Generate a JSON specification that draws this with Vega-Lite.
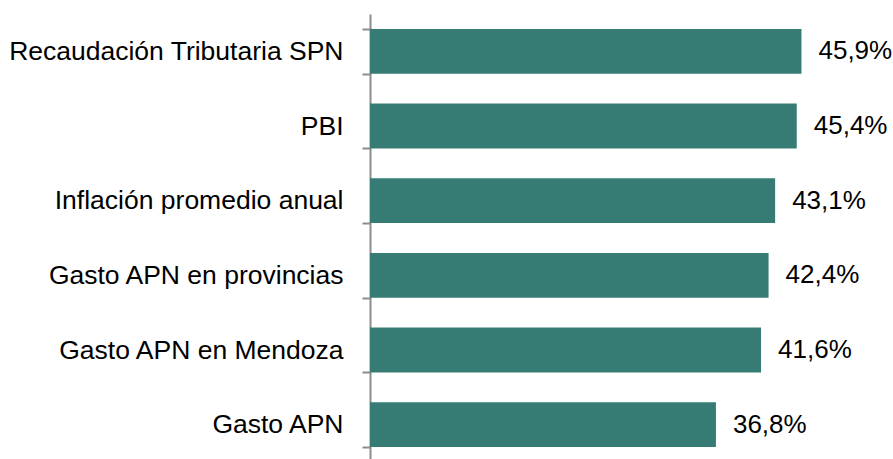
{
  "$schema": "https://vega.github.io/schema/vega-lite/v6.json",
  "autosize": "none",
  "width": 470,
  "height": 448,
  "padding": {"left": 370, "top": 14, "right": 53, "bottom": 0},
  "background": "white",
  "config": {
    "view": {"stroke": null},
    "font": "Liberation Sans",
    "locale": {"number": {"decimal": ",", "thousands": ".", "grouping": [3], "currency": ["$", ""]}}
  },
  "data": {
    "values": [
      {"categoria": "Recaudación Tributaria SPN", "valor": 0.459},
      {"categoria": "PBI", "valor": 0.454},
      {"categoria": "Inflación promedio anual", "valor": 0.431},
      {"categoria": "Gasto APN en provincias", "valor": 0.424},
      {"categoria": "Gasto APN en Mendoza", "valor": 0.416},
      {"categoria": "Gasto APN", "valor": 0.368}
    ]
  },
  "encoding": {
    "y": {
      "field": "categoria",
      "type": "nominal",
      "sort": null,
      "scale": {"paddingInner": 0.4, "paddingOuter": 0.2},
      "axis": {
        "title": null,
        "labelFontSize": 26.5,
        "labelColor": "#000000",
        "labelFont": "Liberation Sans",
        "labelPadding": 19,
        "labelLimit": 400,
        "domainColor": "#8C8C8C",
        "domainWidth": 2,
        "tickColor": "#8C8C8C",
        "tickWidth": 2,
        "tickSize": 8,
        "tickBand": "extent",
        "grid": false
      }
    },
    "x": {
      "field": "valor",
      "type": "quantitative",
      "scale": {"domain": [0, 0.5], "nice": false},
      "axis": null
    }
  },
  "layer": [
    {"mark": {"type": "bar", "color": "#367B74"}},
    {
      "mark": {"type": "text", "align": "left", "baseline": "middle", "dx": 17, "fontSize": 26, "font": "Liberation Sans", "color": "#000000"},
      "encoding": {"text": {"field": "valor", "type": "quantitative", "format": ".1%"}}
    }
  ]
}
